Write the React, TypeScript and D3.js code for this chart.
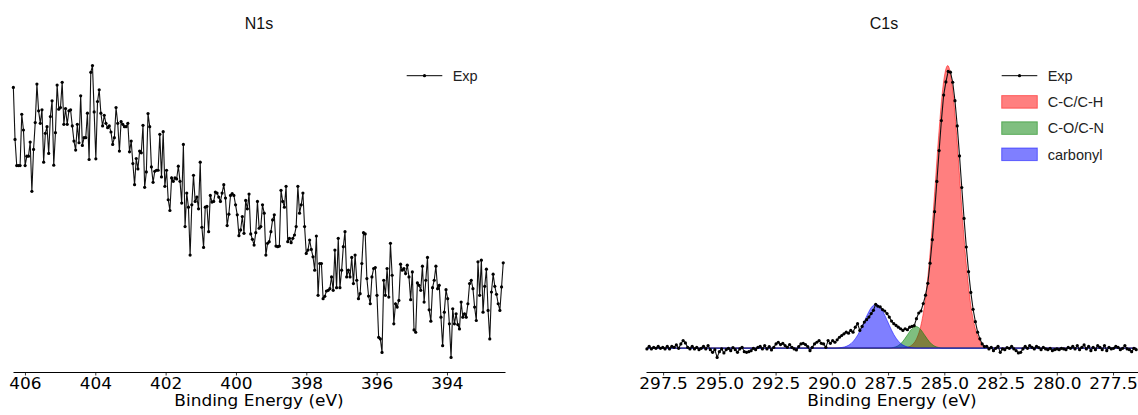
import React, { useEffect, useRef } from 'react';
import * as d3 from 'd3';

// ---- N1s spectrum (arbitrary counts) ----
const N1S_E_FIRST = 406.33;
const N1S_E_LAST = 392.4;
const N1S_XLIM = [406.34, 392.35];
const N1S_TICKS = [406, 404, 402, 400, 398, 396, 394];
const N1S_COUNTS = [
  885, 730, 652, 652, 652, 805, 758, 652, 680, 680,
  722, 575, 700, 780, 895, 815, 778, 818, 662, 748,
  768, 688, 798, 845, 653, 750, 892, 820, 825, 900,
  775, 822, 775, 815, 818, 770, 725, 698, 775, 720,
  860, 712, 735, 735, 808, 670, 930, 950, 812, 672,
  843, 878, 808, 770, 802, 778, 765, 770, 752, 715,
  735, 825, 778, 695, 783, 775, 768, 768, 778, 693,
  725, 658, 595, 673, 642, 695, 690, 772, 587, 633,
  807, 768, 648, 602, 635, 638, 638, 745, 618, 753,
  590, 638, 550, 518, 615, 605, 615, 612, 650, 605,
  540, 715, 470, 570, 528, 385, 535, 623, 545, 558,
  523, 662, 468, 408, 528, 530, 455, 563, 543, 545,
  573, 570, 558, 545, 570, 595, 555, 473, 507, 563,
  568, 563, 535, 505, 443, 460, 500, 450, 548, 523,
  567,
  448, 432, 415, 452, 545, 465, 470, 535, 510, 385,
  420, 425, 455, 490, 505, 412, 410, 412, 578, 545,
  528, 590, 425, 435, 422, 435, 445, 470, 590, 510,
  535, 570, 470, 390, 400, 430, 402, 380, 340, 442,
  265, 360, 360, 255, 262, 278, 280, 285, 320, 280,
  400, 288, 435, 288, 340, 410, 455, 320, 340, 320,
  378, 300, 385, 310, 255, 270, 360, 452, 448, 315,
  263, 240, 320, 345, 348, 265, 140, 135, 95, 310,
  265, 345, 260, 420, 325, 180, 240, 230, 250, 358,
  340, 345, 330, 355, 320, 252, 335, 162, 155, 302,
  295, 280, 352, 245, 310, 378, 222, 188, 288, 310,
  352, 285, 295, 200, 115, 215, 282, 255, 180, 80,
  225, 180, 210, 178, 165, 245, 200, 210, 200, 240,
  300, 310, 285, 230, 190, 365, 265, 370, 215, 292,
  343, 220, 135, 275, 328, 292, 268, 240, 220, 290,
  362,
];

// ---- C1s spectrum ----
const C1S_E_FIRST = 298.22;
const C1S_E_LAST = 276.47;
const C1S_XLIM = [298.26, 276.39];
const C1S_TICKS = [297.5, 295.0, 292.5, 290.0, 287.5, 285.0, 282.5, 280.0, 277.5];
const C1S_COUNTS = [
  237, 263, 237, 253, 243, 263, 243, 253, 237, 263,
  237, 263, 253, 277, 243, 287, 320, 297, 253, 237,
  263, 237, 253, 230, 243, 263, 237, 270, 230, 203,
  230, 153, 210, 237, 197, 230, 243, 220, 250, 230,
  203, 237, 253, 210, 203, 210, 220, 243, 230, 253,
  263, 237,
  270, 237, 260, 227, 253, 287, 303, 280, 293, 270,
  253, 280, 253, 237, 227, 260, 287, 293, 280, 260,
  220, 253, 287, 303, 320, 293, 287, 253, 320, 293,
  320, 303, 327, 353, 370, 387, 403, 393, 420, 403,
  453, 487, 420, 460, 503, 527, 553, 587, 620, 680,
  660, 653, 627, 613, 587, 553, 513, 487,
  470, 453, 437, 420, 437, 427, 453, 460, 467, 537,
  593, 613, 687, 770, 887, 1087, 1320, 1597, 1897, 2203,
  2500, 2753, 2883, 2987, 2980, 2880, 2697, 2447, 2150, 1837,
  1530, 1247, 1003, 797, 630, 507, 403, 337, 287, 260,
  263, 237, 253, 220, 243, 263, 203, 237, 230, 250,
  243, 263, 237, 220, 197, 203, 237, 263, 243, 270,
  253, 237, 263, 250, 230, 253, 237, 230, 243, 220,
  230, 237, 230, 243, 237, 230, 253, 243, 263, 237,
  270, 230, 253, 277, 237, 263, 220, 253, 230, 270,
  253, 230, 270, 220, 253, 237, 243, 263, 253, 230,
  243, 270, 237, 230, 210, 243, 230,
];
const C1S_BACKGROUND = 245;

// fitted components (sampled, above background)
const CC_E = [286.85, 286.65, 286.45, 286.25, 286.05, 285.85, 285.65, 285.45, 285.25, 285.05, 284.85,
  284.65, 284.45, 284.25, 284.05, 283.85, 283.65, 283.45, 283.25, 283.05, 282.85];
const CC_I = [2, 9, 29, 85, 216, 472, 897, 1475, 2105, 2608, 2800,
  2608, 2105, 1475, 897, 472, 216, 85, 29, 9, 2];
const CO_E = [287.46, 287.26, 287.06, 286.86, 286.66, 286.46, 286.26, 286.06, 285.86, 285.66, 285.46, 285.26, 285.06];
const CO_I = [1, 7, 23, 62, 124, 187, 215, 187, 124, 62, 23, 7, 1];
const CARB_E = [289.84, 289.64, 289.44, 289.24, 289.04, 288.84, 288.64, 288.44, 288.24, 288.04,
  287.84, 287.64, 287.44, 287.24, 287.04, 286.84, 286.64, 286.44, 286.24];
const CARB_I = [1, 4, 12, 30, 69, 133, 224, 323, 404, 435, 404, 323, 224, 133, 69, 30, 12, 4, 1];

const COMPONENTS = [
  { name: 'C-C/C-H', color: '#ff0000', e: CC_E, v: CC_I },
  { name: 'C-O/C-N', color: '#008000', e: CO_E, v: CO_I },
  { name: 'carbonyl', color: '#0000ff', e: CARB_E, v: CARB_I },
];

const W = 1138;
const H = 415;
const AXES_TOP = 51;
const AXES_BOTTOM = 372;
const STRETCH = 1.13;
const TICK_FONT = 'DejaVu Sans, sans-serif';
const LABEL_FONT = 'Liberation Sans, Arial, sans-serif';

function toPoints(counts, first, last) {
  const idx = d3.scaleLinear().domain([0, counts.length - 1]).range([first, last]);
  return counts.map((v, i) => ({ e: idx(i), v }));
}

function drawPanel(svg, p) {
  const x = d3.scaleLinear().domain(p.xlim).range([p.left, p.right]);
  const exp = toPoints(p.counts, p.eFirst, p.eLast);

  const fills = p.components.map(c => {
    const pts = [{ e: p.eFirst, v: 0 }, ...c.e.map((e, i) => ({ e, v: c.v[i] })), { e: p.eLast, v: 0 }];
    return { ...c, pts };
  });

  const yVals = [...exp.map(d => d.v), ...fills.flatMap(f => f.pts.map(d => p.bg + d.v))];
  const [lo, hi] = d3.extent(yVals);
  const pad = (hi - lo) * 0.05;
  const y = d3.scaleLinear().domain([lo - pad, hi + pad]).range([AXES_BOTTOM, AXES_TOP]);

  const g = svg.append('g');

  // component fills
  const area = d3.area()
    .x(d => x(d.e))
    .y0(y(p.bg))
    .y1(d => y(p.bg + d.v))
    .curve(d3.curveMonotoneX);
  fills.forEach(f => {
    g.append('path')
      .attr('d', area(f.pts))
      .attr('fill', f.color)
      .attr('fill-opacity', 0.5)
      .attr('stroke', f.color)
      .attr('stroke-opacity', 0.5)
      .attr('stroke-width', 1);
  });

  // experimental line + markers
  const line = d3.line().x(d => x(d.e)).y(d => y(d.v));
  g.append('path')
    .attr('d', line(exp))
    .attr('fill', 'none')
    .attr('stroke', '#111')
    .attr('stroke-width', 1.1);
  g.append('g')
    .selectAll('circle')
    .data(exp)
    .join('circle')
    .attr('cx', d => x(d.e))
    .attr('cy', d => y(d.v))
    .attr('r', 1.6)
    .attr('fill', '#000');

  // x axis
  const axis = d3.axisBottom(x)
    .tickValues(p.ticks)
    .tickSize(3.5)
    .tickSizeOuter(0)
    .tickPadding(2.5)
    .tickFormat(p.fmt);
  const ag = svg.append('g')
    .attr('transform', `translate(0,${AXES_BOTTOM})`)
    .call(axis);
  ag.select('.domain').attr('stroke', '#000').attr('stroke-width', 1);
  ag.selectAll('.tick line').attr('stroke', '#000').attr('stroke-width', 0.8);
  ag.selectAll('.tick text')
    .style('font-family', TICK_FONT)
    .style('font-size', '15px')
    .attr('fill', '#000')
    .attr('transform', `scale(${STRETCH},1)`);

  const cx = (p.left + p.right) / 2;
  svg.append('text')
    .attr('transform', `translate(${cx},406) scale(${STRETCH},1)`)
    .attr('text-anchor', 'middle')
    .style('font-family', TICK_FONT)
    .style('font-size', '15px')
    .attr('fill', '#000')
    .text('Binding Energy (eV)');

  svg.append('text')
    .attr('x', p.titleX)
    .attr('y', 29)
    .attr('text-anchor', 'middle')
    .style('font-family', LABEL_FONT)
    .style('font-size', '16px')
    .attr('fill', '#111')
    .text(p.title);

  // legend
  const lg = svg.append('g').attr('transform', `translate(${p.legendX},75.7)`);
  lg.append('line').attr('x1', 0).attr('x2', 35.6).attr('y1', 0).attr('y2', 0)
    .attr('stroke', '#000').attr('stroke-width', 1);
  lg.append('circle').attr('cx', 17.8).attr('cy', 0).attr('r', 1.6).attr('fill', '#000');
  const rows = [{ name: 'Exp' }, ...p.components];
  rows.forEach((r, i) => {
    const ry = i * 26.2;
    if (i > 0) {
      lg.append('rect')
        .attr('x', 0).attr('y', ry - 6.3)
        .attr('width', 35.6).attr('height', 12.6)
        .attr('fill', r.color).attr('fill-opacity', 0.5)
        .attr('stroke', r.color).attr('stroke-opacity', 0.5);
    }
    lg.append('text')
      .attr('x', 46)
      .attr('y', ry + 5.3)
      .style('font-family', LABEL_FONT)
      .style('font-size', '14.5px')
      .attr('fill', '#222')
      .text(r.name);
  });
}

export default function App() {
  const svgRef = useRef(null);

  useEffect(() => {
    const svg = d3.select(svgRef.current);
    svg.selectAll('*').remove();

    drawPanel(svg, {
      title: 'N1s', titleX: 259,
      left: 13, right: 505,
      xlim: N1S_XLIM, eFirst: N1S_E_FIRST, eLast: N1S_E_LAST,
      counts: N1S_COUNTS, components: [], bg: 0,
      ticks: N1S_TICKS, fmt: d3.format('d'),
      legendX: 406.7,
    });

    drawPanel(svg, {
      title: 'C1s', titleX: 884,
      left: 646, right: 1138,
      xlim: C1S_XLIM, eFirst: C1S_E_FIRST, eLast: C1S_E_LAST,
      counts: C1S_COUNTS, components: COMPONENTS, bg: C1S_BACKGROUND,
      ticks: C1S_TICKS, fmt: d3.format('.1f'),
      legendX: 1001.7,
    });
  }, []);

  return (
    <svg
      ref={svgRef}
      width={W}
      height={H}
      style={{ position: 'absolute', left: 0, top: 0, background: '#fff' }}
    />
  );
}
